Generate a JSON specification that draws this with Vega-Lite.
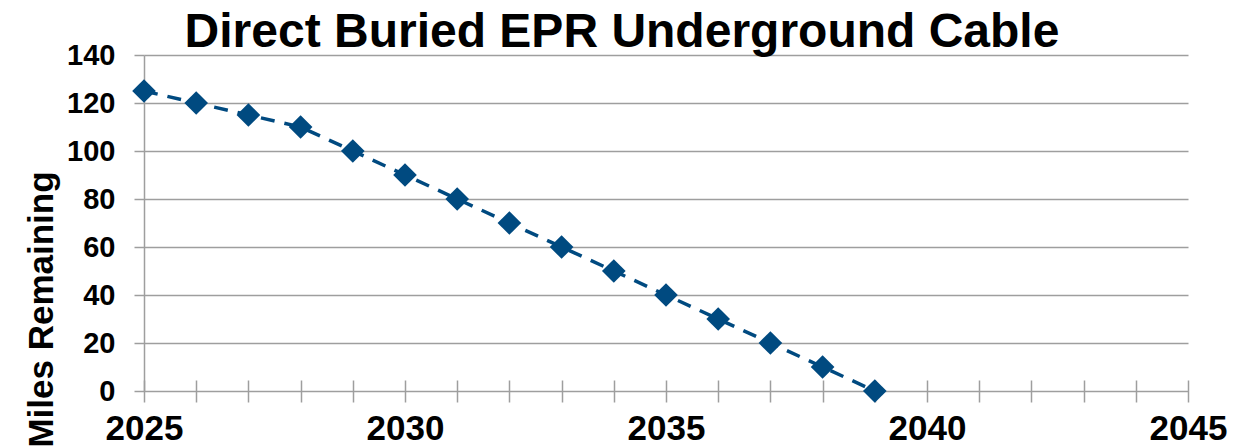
{
  "$schema": "https://vega.github.io/schema/vega-lite/v6.json",
  "autosize": {"type": "none"},
  "width": 1044,
  "height": 336,
  "padding": {"left": 144, "top": 55, "right": 65, "bottom": 56},
  "background": "white",
  "config": {"view": {"stroke": null}, "font": "Liberation Sans"},
  "title": {
    "text": "Direct Buried EPR Underground Cable",
    "fontSize": 48,
    "fontWeight": "bold",
    "color": "black",
    "anchor": "middle",
    "dx": -44,
    "dy": 26,
    "offset": 10
  },
  "data": {
    "values": [
      {"year": 2025, "miles": 125},
      {"year": 2026, "miles": 120},
      {"year": 2027, "miles": 115},
      {"year": 2028, "miles": 110},
      {"year": 2029, "miles": 100},
      {"year": 2030, "miles": 90},
      {"year": 2031, "miles": 80},
      {"year": 2032, "miles": 70},
      {"year": 2033, "miles": 60},
      {"year": 2034, "miles": 50},
      {"year": 2035, "miles": 40},
      {"year": 2036, "miles": 30},
      {"year": 2037, "miles": 20},
      {"year": 2038, "miles": 10},
      {"year": 2039, "miles": 0}
    ]
  },
  "encoding": {
    "x": {
      "field": "year",
      "type": "quantitative",
      "scale": {"domain": [2025, 2045], "nice": false, "zero": false},
      "axis": {
        "title": null,
        "values": [2025, 2026, 2027, 2028, 2029, 2030, 2031, 2032, 2033, 2034, 2035, 2036, 2037, 2038, 2039, 2040, 2041, 2042, 2043, 2044, 2045],
        "format": "d",
        "labelExpr": "datum.value % 5 == 0 ? datum.label : ''",
        "grid": false,
        "domain": false,
        "offset": -11,
        "tickSize": 22,
        "tickColor": "#9e9e9e",
        "tickWidth": 1.5,
        "labelFontSize": 35,
        "labelFontWeight": "bold",
        "labelColor": "black",
        "labelPadding": 9,
        "labelFlush": false,
        "labelOverlap": false
      }
    },
    "y": {
      "field": "miles",
      "type": "quantitative",
      "scale": {"domain": [0, 140], "nice": false},
      "axis": {
        "title": "Miles Remaining",
        "values": [0, 20, 40, 60, 80, 100, 120, 140],
        "grid": true,
        "gridColor": "#9e9e9e",
        "gridWidth": 1.5,
        "domain": true,
        "domainColor": "#9e9e9e",
        "domainWidth": 1.5,
        "tickColor": "#9e9e9e",
        "tickWidth": 1.5,
        "tickSize": 10,
        "labelFontSize": 29,
        "labelFontWeight": "bold",
        "labelColor": "black",
        "labelPadding": 19,
        "titleFontSize": 35,
        "titleFontWeight": "bold",
        "titleColor": "black",
        "titleAngle": 270,
        "titleAlign": "center",
        "titleBaseline": "alphabetic",
        "titleX": -92,
        "titleY": 254
      }
    }
  },
  "layer": [
    {"mark": {"type": "line", "color": "#004a80", "strokeWidth": 3.5, "strokeDash": [14, 10]}},
    {"mark": {"type": "point", "shape": "diamond", "filled": true, "size": 560, "color": "#004a80", "opacity": 1}}
  ]
}
